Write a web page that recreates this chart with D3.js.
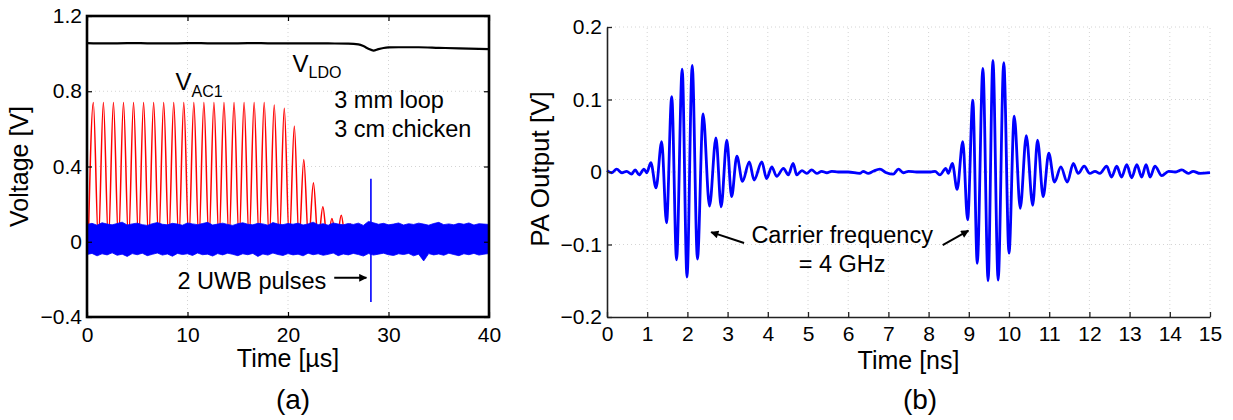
<!DOCTYPE html>
<html>
<head>
<meta charset="utf-8">
<script src="https://cdn.jsdelivr.net/npm/d3@7"></script>
<style>
  body { margin: 0; background: #fff; }
  svg { font-family: "Liberation Sans", Arial, sans-serif; }
</style>
</head>
<body>
<svg width="1233" height="420"></svg>
<script>
// ---- panel (a) data ----
var ldoTime  = [0, 2, 4, 6, 8, 10, 12, 14, 16, 18, 20, 22, 24, 26, 27, 27.5, 28, 28.5, 29, 29.5, 30, 31, 33, 35, 37, 40];
var ldoValue = [1.056, 1.054, 1.056, 1.055, 1.054, 1.056, 1.055, 1.054, 1.056, 1.055, 1.054, 1.055, 1.054, 1.053,
                1.049, 1.040, 1.026, 1.016, 1.024, 1.030, 1.033, 1.034, 1.034, 1.031, 1.028, 1.024];

var acPeakTime  = [0.63, 1.63, 2.63, 3.63, 4.63, 5.63, 6.63, 7.63, 8.63, 9.63, 10.63, 11.63, 12.63, 13.63,
                   14.63, 15.63, 16.63, 17.63, 18.63, 19.63, 20.63, 21.57, 22.53, 23.47, 24.37, 25.3, 26.2, 27.13];
var acPeakValue = [0.74, 0.74, 0.74, 0.74, 0.74, 0.74, 0.74, 0.74, 0.74, 0.74, 0.74, 0.74, 0.74, 0.74,
                   0.74, 0.74, 0.74, 0.74, 0.727, 0.709, 0.615, 0.437, 0.313, 0.186, 0.124, 0.141, 0.094, 0.08];
var acTroughTime = [0.13, 1.13, 2.13, 3.13, 4.13, 5.13, 6.13, 7.13, 8.13, 9.13, 10.13, 11.13, 12.13, 13.13, 14.13,
                    15.13, 16.13, 17.13, 18.13, 19.13, 20.13, 21.1, 22.05, 23.0, 23.92, 24.83, 25.75, 26.67, 27.6];
var acFloor = 0.0;

// envelope of the dense noise band, sampled every 0.5 us from 0 to 40
var noiseStep = 0.5;
var noiseTop = [
  0.092,0.098,0.088,0.101,0.094,0.090,0.097,0.104,0.089,0.095,
  0.099,0.091,0.087,0.096,0.102,0.093,0.090,0.098,0.094,0.088,
  0.100,0.095,0.091,0.097,0.103,0.089,0.094,0.099,0.092,0.087,
  0.096,0.101,0.093,0.090,0.098,0.095,0.088,0.102,0.094,0.091,
  0.097,0.093,0.099,0.089,0.095,0.104,0.091,0.096,0.088,0.100,
  0.094,0.090,0.097,0.092,0.099,0.087,0.108,0.101,0.093,0.098,
  0.090,0.094,0.100,0.089,0.096,0.092,0.099,0.094,0.088,0.097,
  0.103,0.091,0.095,0.090,0.098,0.093,0.100,0.089,0.096,0.094,
  0.092];
var noiseBottom = [
  -0.068,-0.062,-0.075,-0.064,-0.070,-0.059,-0.072,-0.066,-0.078,-0.063,
  -0.069,-0.061,-0.074,-0.067,-0.060,-0.071,-0.065,-0.077,-0.062,-0.068,
  -0.064,-0.073,-0.060,-0.069,-0.066,-0.076,-0.063,-0.070,-0.061,-0.067,
  -0.074,-0.064,-0.069,-0.062,-0.078,-0.065,-0.071,-0.060,-0.068,-0.073,
  -0.063,-0.070,-0.066,-0.075,-0.061,-0.069,-0.064,-0.072,-0.067,-0.060,
  -0.074,-0.065,-0.070,-0.062,-0.068,-0.076,-0.063,-0.071,-0.066,-0.061,
  -0.069,-0.073,-0.064,-0.068,-0.062,-0.075,-0.066,-0.102,-0.063,-0.070,
  -0.065,-0.072,-0.061,-0.068,-0.074,-0.064,-0.069,-0.062,-0.071,-0.066,
  -0.063];

var uwbTime = [28.25];
var uwbHigh = [0.335];
var uwbLow  = [-0.32];

var aXTicks = [0, 10, 20, 30, 40];
var aXLabels = ["0", "10", "20", "30", "40"];
var aYTicks = [-0.4, 0, 0.4, 0.8, 1.2];
var aYLabels = ["\u22120.4", "0", "0.4", "0.8", "1.2"];

// ---- panel (b) data: extremes of the PA output waveform ----
var paTime = [
  0.0,0.12,0.24,0.37,0.49,0.61,0.70,0.80,0.92,0.99,
  1.09,1.22,1.36,1.48,1.61,1.73,1.87,1.99,2.12,2.25,
  2.39,2.55,2.71,2.84,2.98,3.10,3.23,3.37,3.54,3.66,
  3.85,3.97,4.10,4.22,4.39,4.51,4.63,4.72,
  4.85,4.97,5.09,5.22,5.34,5.47,5.59,5.75,6.0,6.29,
  6.37,6.5,6.62,6.79,6.95,7.12,7.25,7.37,7.5,7.7,
  7.9,8.05,8.16,8.28,8.43,8.49,8.59,
  8.71,8.85,8.97,9.10,9.21,9.35,9.48,9.60,9.73,9.87,
  10.0,10.13,10.28,10.43,10.59,10.71,10.85,10.99,11.13,11.29,
  11.45,11.60,11.72,11.87,12.01,12.14,12.26,12.43,12.55,12.68,
  12.80,12.93,13.05,13.18,13.30,13.41,13.51,13.63,13.80,13.97,
  14.13,14.30,14.46,14.58,14.75,15.0];
var paValue = [
  0.002,-0.001,0.004,-0.001,0.001,-0.003,0.003,-0.004,0.004,-0.001,
  0.013,-0.022,0.042,-0.070,0.104,-0.121,0.142,-0.145,0.147,-0.120,
  0.080,-0.047,0.047,-0.048,0.044,-0.034,0.022,-0.013,0.014,-0.011,
  0.014,-0.009,0.007,-0.006,0.005,-0.004,0.012,-0.004,
  0.002,-0.002,0.003,-0.002,0.001,-0.001,0.001,0.000,0.000,-0.002,
  0.001,-0.002,0.001,0.004,-0.001,-0.003,0.004,-0.001,0.001,0.000,
  0.000,0.000,0.001,-0.004,0.005,-0.002,0.012,
  -0.024,0.042,-0.066,0.099,-0.126,0.143,-0.150,0.154,-0.149,0.151,
  -0.112,0.077,-0.050,0.050,-0.046,0.044,-0.034,0.026,-0.014,0.007,
  -0.014,0.012,-0.002,0.008,-0.002,0.001,-0.002,0.008,-0.007,0.008,
  -0.007,0.010,-0.008,0.010,-0.007,0.010,-0.007,0.008,-0.005,0.001,
  0.000,0.003,-0.002,0.001,-0.002,-0.001];

var bXTicks = [0,1,2,3,4,5,6,7,8,9,10,11,12,13,14,15];
var bXLabels = ["0","1","2","3","4","5","6","7","8","9","10","11","12","13","14","15"];
var bYTicks = [-0.2, -0.1, 0, 0.1, 0.2];
var bYLabels = ["\u22120.2", "\u22120.1", "0", "0.1", "0.2"];

function main() {
    var svg = d3.select("svg");
    var gridColor = "#d4d4d4";

    var defs = svg.append("defs");
    defs.append("marker")
        .attr("id", "arrow")
        .attr("viewBox", "0 0 10 10")
        .attr("refX", 9).attr("refY", 5)
        .attr("markerUnits", "userSpaceOnUse")
        .attr("markerWidth", 11).attr("markerHeight", 8)
        .attr("orient", "auto")
        .append("path").attr("d", "M0,0 L10,5 L0,10 z").attr("fill", "#000");

    // ================= panel (a) =================
    var xA = d3.scaleLinear().domain([0, 40]).range([87, 489]),
        yA = d3.scaleLinear().domain([-0.4, 1.2]).range([317, 16]);

    var ga = svg.append("g");

    // dotted grid
    ga.selectAll(".gx").data(aXTicks.slice(1, -1)).enter().append("line")
        .attr("x1", function(d) { return xA(d); }).attr("x2", function(d) { return xA(d); })
        .attr("y1", yA(-0.4)).attr("y2", yA(1.2))
        .attr("stroke", gridColor).attr("stroke-dasharray", "1,3");
    ga.selectAll(".gy").data(aYTicks.slice(1, -1)).enter().append("line")
        .attr("y1", function(d) { return yA(d); }).attr("y2", function(d) { return yA(d); })
        .attr("x1", xA(0)).attr("x2", xA(40))
        .attr("stroke", gridColor).attr("stroke-dasharray", "1,3");

    // V_AC1 : troughs and peaks interleaved
    var acPts = [];
    for (var i = 0; i < acTroughTime.length; i++) {
        acPts.push([acTroughTime[i], acFloor]);
        if (i < acPeakTime.length) acPts.push([acPeakTime[i], acPeakValue[i]]);
    }
    ga.append("path")
        .datum(acPts)
        .attr("fill", "none").attr("stroke", "#ff0000").attr("stroke-width", 1.5)
        .attr("d", d3.line().curve(d3.curveMonotoneX)
            .x(function(d) { return xA(d[0]); })
            .y(function(d) { return yA(d[1]); }));

    // V_LDO
    ga.append("path")
        .datum(ldoTime.map(function(t, i) { return [t, ldoValue[i]]; }))
        .attr("fill", "none").attr("stroke", "#000").attr("stroke-width", 2.2)
        .attr("d", d3.line().curve(d3.curveMonotoneX)
            .x(function(d) { return xA(d[0]); })
            .y(function(d) { return yA(d[1]); }));

    // noise band
    var nPts = noiseTop.map(function(v, i) { return [i * noiseStep, v, noiseBottom[i]]; });
    ga.append("path")
        .datum(nPts)
        .attr("fill", "#0000ff").attr("stroke", "#0000ff").attr("stroke-width", 0.8)
        .attr("d", d3.area()
            .x(function(d) { return xA(d[0]); })
            .y0(function(d) { return yA(d[2]); })
            .y1(function(d) { return yA(d[1]); }));

    // UWB pulses
    ga.selectAll(".uwb").data(uwbTime).enter().append("line")
        .attr("x1", function(d) { return xA(d); }).attr("x2", function(d) { return xA(d); })
        .attr("y1", function(d, i) { return yA(uwbHigh[i]); })
        .attr("y2", function(d, i) { return yA(uwbLow[i]); })
        .attr("stroke", "#0000ff").attr("stroke-width", 1.6);

    // axes with inward ticks
    ga.append("g").attr("transform", "translate(0," + yA(-0.4) + ")")
        .call(d3.axisBottom(xA).tickValues(aXTicks)
            .tickFormat(function(d, i) { return aXLabels[i]; })
            .tickSizeInner(-5).tickSizeOuter(0).tickPadding(10));
    ga.append("g").attr("transform", "translate(" + xA(0) + ",0)")
        .call(d3.axisLeft(yA).tickValues(aYTicks)
            .tickFormat(function(d, i) { return aYLabels[i]; })
            .tickSizeInner(-5).tickSizeOuter(0).tickPadding(5));
    ga.append("g").attr("transform", "translate(0," + yA(1.2) + ")")
        .call(d3.axisTop(xA).tickValues(aXTicks).tickFormat("").tickSizeInner(-5).tickSizeOuter(0));
    ga.append("g").attr("transform", "translate(" + xA(40) + ",0)")
        .call(d3.axisRight(yA).tickValues(aYTicks).tickFormat("").tickSizeInner(-5).tickSizeOuter(0));
    ga.selectAll(".domain").remove();
    ga.selectAll(".tick line").attr("stroke", "#000").attr("stroke-width", 1.2);
    ga.selectAll(".tick text").attr("font-size", 21).attr("fill", "#000")
        .attr("font-family", "'Liberation Sans', Arial, sans-serif");

    ga.append("rect")
        .attr("x", xA(0)).attr("y", yA(1.2))
        .attr("width", xA(40) - xA(0)).attr("height", yA(-0.4) - yA(1.2))
        .attr("fill", "none").attr("stroke", "#000").attr("stroke-width", 2.6);

    // annotations
    var vac = ga.append("text").attr("x", xA(8.8)).attr("y", yA(0.806)).attr("font-size", 24);
    vac.append("tspan").text("V");
    vac.append("tspan").attr("dy", 7).attr("font-size", 16).text("AC1");
    var vldo = ga.append("text").attr("x", xA(20.45)).attr("y", yA(0.902)).attr("font-size", 24);
    vldo.append("tspan").text("V");
    vldo.append("tspan").attr("dy", 6).attr("font-size", 16).text("LDO");
    ga.append("text").attr("x", xA(24.6)).attr("y", yA(0.711)).attr("font-size", 23.5).text("3 mm loop");
    ga.append("text").attr("x", xA(24.6)).attr("y", yA(0.556)).attr("font-size", 23.5).text("3 cm chicken");
    ga.append("text").attr("x", xA(9.0)).attr("y", yA(-0.25)).attr("font-size", 23.5).text("2 UWB pulses");
    ga.append("line")
        .attr("x1", xA(24.6)).attr("y1", yA(-0.192))
        .attr("x2", xA(27.8)).attr("y2", yA(-0.192))
        .attr("stroke", "#000").attr("stroke-width", 2).attr("marker-end", "url(#arrow)");

    ga.append("text").attr("transform", "translate(28," + yA(0.4) + ") rotate(-90)")
        .attr("text-anchor", "middle").attr("font-size", 25).text("Voltage [V]");
    ga.append("text").attr("x", (xA(0) + xA(40)) / 2).attr("y", 367)
        .attr("text-anchor", "middle").attr("font-size", 25).text("Time [\u00b5s]");
    ga.append("text").attr("x", 293).attr("y", 409)
        .attr("text-anchor", "middle").attr("font-size", 28).text("(a)");

    // ================= panel (b) =================
    var xB = d3.scaleLinear().domain([0, 15]).range([607, 1210]),
        yB = d3.scaleLinear().domain([-0.2, 0.2]).range([317, 27]);

    var gb = svg.append("g");

    gb.selectAll(".gx").data(bXTicks.slice(1)).enter().append("line")
        .attr("x1", function(d) { return xB(d); }).attr("x2", function(d) { return xB(d); })
        .attr("y1", yB(-0.2)).attr("y2", yB(0.2))
        .attr("stroke", gridColor).attr("stroke-dasharray", "1,3");
    gb.selectAll(".gy").data(bYTicks.slice(1)).enter().append("line")
        .attr("y1", function(d) { return yB(d); }).attr("y2", function(d) { return yB(d); })
        .attr("x1", xB(0)).attr("x2", xB(15))
        .attr("stroke", gridColor).attr("stroke-dasharray", "1,3");

    gb.append("path")
        .datum(paTime.map(function(t, i) { return [t, paValue[i]]; }))
        .attr("fill", "none").attr("stroke", "#0000ff").attr("stroke-width", 2.8)
        .attr("stroke-linejoin", "round")
        .attr("d", d3.line().curve(d3.curveMonotoneX)
            .x(function(d) { return xB(d[0]); })
            .y(function(d) { return yB(d[1]); }));

    gb.append("g").attr("transform", "translate(0," + yB(-0.2) + ")")
        .call(d3.axisBottom(xB).tickValues(bXTicks)
            .tickFormat(function(d, i) { return bXLabels[i]; })
            .tickSizeInner(-5).tickSizeOuter(0).tickPadding(9));
    gb.append("g").attr("transform", "translate(" + xB(0) + ",0)")
        .call(d3.axisLeft(yB).tickValues(bYTicks)
            .tickFormat(function(d, i) { return bYLabels[i]; })
            .tickSizeInner(-5).tickSizeOuter(0).tickPadding(5));
    gb.selectAll(".domain").attr("stroke", "#222").attr("stroke-width", 1.6);
    gb.selectAll(".tick line").attr("stroke", "#222").attr("stroke-width", 1.3);
    gb.selectAll(".tick text").attr("font-size", 21).attr("fill", "#000")
        .attr("font-family", "'Liberation Sans', Arial, sans-serif");

    gb.append("text").attr("x", xB(5.85)).attr("y", yB(-0.098))
        .attr("text-anchor", "middle").attr("font-size", 23.5).text("Carrier frequency");
    gb.append("text").attr("x", xB(5.85)).attr("y", yB(-0.138))
        .attr("text-anchor", "middle").attr("font-size", 23.5).text("= 4 GHz");
    gb.append("line")
        .attr("x1", xB(3.41)).attr("y1", yB(-0.098))
        .attr("x2", xB(2.59)).attr("y2", yB(-0.083))
        .attr("stroke", "#000").attr("stroke-width", 2).attr("marker-end", "url(#arrow)");
    gb.append("line")
        .attr("x1", xB(8.35)).attr("y1", yB(-0.101))
        .attr("x2", xB(8.99)).attr("y2", yB(-0.081))
        .attr("stroke", "#000").attr("stroke-width", 2).attr("marker-end", "url(#arrow)");

    gb.append("text").attr("transform", "translate(549,169) rotate(-90)")
        .attr("text-anchor", "middle").attr("font-size", 26).text("PA Output [V]");
    gb.append("text").attr("x", (xB(0) + xB(15)) / 2).attr("y", 369)
        .attr("text-anchor", "middle").attr("font-size", 25).text("Time [ns]");
    gb.append("text").attr("x", 920).attr("y", 409)
        .attr("text-anchor", "middle").attr("font-size", 28).text("(b)");
}

main();
</script>
</body>
</html>
